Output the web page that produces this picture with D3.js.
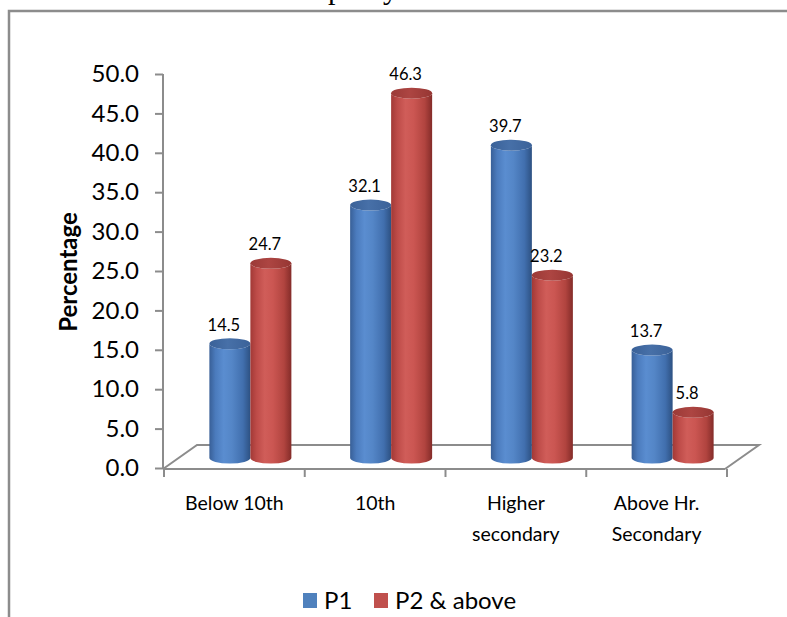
<!DOCTYPE html>
<html>
<head>
<meta charset="utf-8">
<script src="https://cdn.jsdelivr.net/npm/d3@7"></script>
<style>
  html, body { margin: 0; padding: 0; background: #fff; }
  svg { display: block; }
</style>
</head>
<body>
<svg id="chart" width="787" height="617"></svg>
<script>
// Education level of mothers, by parity
const categories = ["Below 10th", "10th", "Higher secondary", "Above Hr. Secondary"];
const categoryLines = [["Below 10th"], ["10th"], ["Higher", "secondary"], ["Above Hr.", "Secondary"]];
const seriesNames = ["P1", "P2 & above"];
const p1Values = [14.5, 32.1, 39.7, 13.7];
const p2Values = [24.7, 46.3, 23.2, 5.8];
const yTicks = [0, 5, 10, 15, 20, 25, 30, 35, 40, 45, 50];

const seriesValues = [p1Values, p2Values];
const svg = d3.select("#chart");
const FONT = "Lato, 'Open Sans', sans-serif";
const GRID = "#8c8c8c";

// outer frame (runs off the page at right and bottom)
svg.append("path")
  .attr("d", "M9,630 L9,11 L800,11")
  .attr("fill", "none").attr("stroke", GRID).attr("stroke-width", 2.5);

// clipped title descenders at the very top
svg.append("text")
  .attr("x", 398).attr("y", -1)
  .attr("text-anchor", "end")
  .attr("font-family", "'Liberation Serif', serif")
  .attr("font-size", 30)
  .text("parity");

// scales
const x = d3.scaleBand().domain(categories).range([164, 727]);
const y = d3.scaleLinear().domain([0, 50]).range([468, 74]);
const depth = { dx: 34, dy: -24 };
const inner = d3.scaleBand().domain(seriesNames).range([-42, 40]);
const color = d3.scaleOrdinal().domain(seriesNames).range(["#4f81bd", "#c0504d"]);

// floor outline
const x0 = x.range()[0] - 1, x1 = x.range()[1] - 2, yf = y(0) + 1;
svg.append("path")
  .attr("d", `M${x0},${yf} L${x0 + depth.dx},${yf + depth.dy} L${x1 + depth.dx},${yf + depth.dy} L${x1},${yf}`)
  .attr("fill", "none").attr("stroke", GRID).attr("stroke-width", 2);

// value axis
const yAxis = svg.append("g").attr("transform", `translate(${x0},0)`)
  .call(d3.axisLeft(y).tickValues(yTicks).tickSize(8).tickPadding(16).tickFormat(d3.format(".1f")));
yAxis.select(".domain").attr("stroke", GRID).attr("stroke-width", 2).attr("d", `M0,${y(50)}V${yf}`);
yAxis.selectAll(".tick line").attr("stroke", GRID).attr("stroke-width", 2);
yAxis.selectAll(".tick text")
  .attr("font-family", FONT).attr("font-size", 24).attr("fill", "#000");

// category axis along the front edge of the floor
const xAxis = svg.append("g").attr("transform", `translate(0,${yf})`)
  .call(d3.axisBottom(x).tickSize(0).tickFormat(""));
xAxis.select(".domain").attr("stroke", GRID).attr("stroke-width", 2)
  .attr("d", `M${x0},0H${x1}`);
const bounds = categories.map(c => x(c)).concat([x.range()[1]]);
xAxis.selectAll(".bound").data(bounds).enter().append("line")
  .attr("x1", d => d).attr("x2", d => d).attr("y1", 0).attr("y2", 8)
  .attr("stroke", GRID).attr("stroke-width", 2);

categories.forEach((c, i) => {
  const t = svg.append("text")
    .attr("x", x(c) + x.bandwidth() / 2)
    .attr("y", 510)
    .attr("text-anchor", "middle")
    .attr("font-family", FONT).attr("font-size", 19.5).attr("fill", "#000");
  categoryLines[i].forEach((ln, j) => {
    t.append("tspan").attr("x", x(c) + x.bandwidth() / 2).attr("dy", j === 0 ? 0 : 31).text(ln);
  });
});

// axis title
svg.append("text")
  .attr("transform", "translate(77,272) rotate(-90)")
  .attr("text-anchor", "middle")
  .attr("font-family", FONT).attr("font-weight", "bold").attr("font-size", 24)
  .attr("fill", "#000")
  .text("Percentage");

// cylinder shading
const defs = svg.append("defs");
const shades = {
  "P1": { body: ["#385f97", "#4b7bbd", "#5a8dd0", "#5486c7", "#416fae", "#2d5182"], top: ["#3a6198", "#4770a8", "#3b6299"] },
  "P2 & above": { body: ["#a23936", "#bd4b48", "#d05d59", "#cb5652", "#b1443f", "#842c29"], top: ["#9b3a37", "#ad4542", "#963633"] }
};
seriesNames.forEach((s, k) => {
  const g = defs.append("linearGradient").attr("id", "body" + k)
    .attr("x1", "0%").attr("x2", "100%").attr("y1", "0%").attr("y2", "0%");
  [0, 15, 35, 55, 82, 100].forEach((o, j) =>
    g.append("stop").attr("offset", o + "%").attr("stop-color", shades[s].body[j]));
  const t = defs.append("linearGradient").attr("id", "top" + k)
    .attr("x1", "0%").attr("x2", "100%").attr("y1", "0%").attr("y2", "0%");
  [0, 45, 100].forEach((o, j) =>
    t.append("stop").attr("offset", o + "%").attr("stop-color", shades[s].top[j]));
});

// bars: cylinders standing at mid depth of the floor
const rx = inner.bandwidth() / 2, ry = 5.5;
const baseShift = { dx: depth.dx / 2, dy: depth.dy / 2 };
const bars = [];
categories.forEach((c, i) => {
  seriesNames.forEach((s, k) => {
    bars.push({ c, s, k, v: seriesValues[k][i] });
  });
});

const barG = svg.append("g");
bars.forEach(b => {
  const left = x(b.c) + x.bandwidth() / 2 + baseShift.dx + inner(b.s);
  const right = left + inner.bandwidth();
  const cx = (left + right) / 2;
  const yBase = y(0) + baseShift.dy + 2;
  const yTop = y(b.v) + baseShift.dy + 2;
  barG.append("path")
    .attr("d", `M${left},${yTop} L${left},${yBase} A${rx},${ry} 0 0 0 ${right},${yBase} L${right},${yTop} A${rx},${ry} 0 0 1 ${left},${yTop} Z`)
    .attr("fill", `url(#body${b.k})`);
  barG.append("ellipse")
    .attr("cx", cx).attr("cy", yTop).attr("rx", rx).attr("ry", ry)
    .attr("fill", `url(#top${b.k})`);
  barG.append("text")
    .attr("x", cx - 6).attr("y", yTop - 13)
    .attr("text-anchor", "middle")
    .attr("font-family", FONT).attr("font-size", 16.5).attr("fill", "#000")
    .text(d3.format(".1f")(b.v));
});

// legend
const legendItems = [{ s: "P1", x: 303 }, { s: "P2 & above", x: 374 }];
legendItems.forEach(it => {
  svg.append("rect").attr("x", it.x).attr("y", 593).attr("width", 14).attr("height", 15)
    .attr("fill", color(it.s));
  svg.append("text").attr("x", it.x + 21).attr("y", 609)
    .attr("font-family", FONT).attr("font-size", 24).attr("fill", "#000")
    .text(it.s);
});
</script>
</body>
</html>
